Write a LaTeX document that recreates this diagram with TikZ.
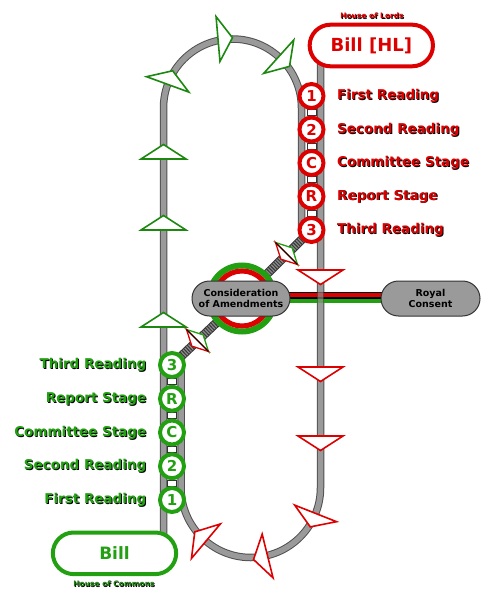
\documentclass[tikz,border=0pt]{standalone}
\usepackage{fontspec}
\setmainfont{DejaVu Sans}
\definecolor{lred}{HTML}{DD0000}
\definecolor{cgreen}{HTML}{22A012}
\definecolor{trk}{HTML}{9A9A9A}
\definecolor{trkd}{HTML}{505050}
\definecolor{pillg}{HTML}{9A9A9A}
\pgfdeclarelayer{bg}
\pgfsetlayers{bg,main}
\newcommand\shlabel[5]{%
  \node[lab, anchor=#2, text=black] (#1s) at ([shift={(0.9pt,-0.9pt)}]#3) {#5};
  \node[lab, anchor=#2, text=#4] (#1) at (#3) {#5};}
\tikzset{
  track/.style={draw=trkd, line width=7.5pt, postaction={draw=trk, line width=5.5pt}},
  diagline/.style={draw=trkd!70!black, line width=9pt, postaction={draw=trk!90!black, line width=7pt, dash pattern=on 1.2pt off 1.3pt}},
  lst/.style={circle, draw=lred, line width=4pt, fill=white, minimum size=24pt, inner sep=0pt, text=lred, font=\bfseries\fontsize{15}{15}\selectfont},
  cst/.style={lst, draw=cgreen, text=cgreen},
  lab/.style={font=\bfseries\fontsize{13.5}{14}\selectfont, inner sep=0pt},
  tiny/.style={font=\bfseries\fontsize{7.5}{8}\selectfont, inner sep=0pt},
  pill/.style={rectangle, rounded corners=17.5pt, minimum width=98pt, minimum height=35pt, fill=pillg, draw=black!80, line width=1pt, inner sep=0pt, align=center, font=\bfseries\fontsize{9.5}{10.5}\selectfont},
  billpill/.style={rectangle, rounded corners=20.8pt, minimum width=123.3pt, minimum height=41.6pt, line width=4pt, fill=white, inner sep=0pt},
  linkb/.style={rectangle, draw=black!80, fill=white, minimum width=9pt, minimum height=6pt, inner sep=0pt, line width=0.8pt},
  gtri/.pic={\filldraw[fill=white, draw=cgreen!85!black, line width=1.6pt] (0,-22.5) -- (14.5,0) -- (0,22.5) -- cycle;},
  rtri/.pic={\filldraw[fill=white, draw=lred, line width=1.6pt] (0,-22.5) -- (14.5,0) -- (0,22.5) -- cycle;},
  dmark/.pic={
    \filldraw[fill=white, draw=cgreen, line width=1.3pt] (0,-15.5) -- (8,0) -- (0,15.5) -- cycle;
    \filldraw[fill=white, draw=lred, line width=1.3pt] (0,-15.5) -- (-8,0) -- (0,15.5) -- cycle;
    \draw[black, line width=0.8pt] (0,-15.5) -- (0,15.5);}
}
\begin{document}
\begin{tikzpicture}[x=1pt, y=-1pt]
\useasboundingbox (0,0) rectangle (493,599);
% bills
\node[billpill, draw=lred, text=lred, font=\bfseries\fontsize{18}{18}\selectfont] (billhl) at (371.3,45.5) {Bill [HL]};
\node[billpill, draw=cgreen, text=cgreen, font=\bfseries\fontsize{17}{17}\selectfont] (billc) at (114.5,553.3) {Bill};
\node[tiny, text=black] (lordss) at (372.8,16.8) {House of Lords};
\node[tiny, text=lred] (lords) at (372,16) {House of Lords};
\node[tiny, text=black] (commonss) at (114.8,584.8) {House of Commons};
\node[tiny, text=cgreen!80!black] (commons) at (114,584) {House of Commons};
% consideration
\node[circle, draw=cgreen, line width=6pt, minimum size=66pt, inner sep=0pt, fill=white] (consring) at (242,298.5) {};
\node[circle, draw=lred, line width=5pt, minimum size=55pt, inner sep=0pt] (consin) at (242,298.5) {};
\node[pill] (cons) at (241,298.5) {Consideration\\of Amendments};
\node[pill, minimum width=99pt] (royal) at (430.5,298.5) {Royal\\Consent};
% Lords stations
\node[lst] (l1) at (311.5,96) {1};
\node[lst] (l2) at (311.5,129.5) {2};
\node[lst] (lc) at (311.5,163) {C};
\node[lst] (lr) at (311.5,196.5) {R};
\node[lst] (l3) at (311.5,230) {3};
% Commons stations
\node[cst] (c3) at (172,365) {3};
\node[cst] (cr) at (172,398.75) {R};
\node[cst] (cc) at (172,432.5) {C};
\node[cst] (c2) at (172,466.25) {2};
\node[cst] (c1) at (172,500) {1};
% labels
\shlabel{ll1}{west}{337,96}{lred}{First Reading}
\shlabel{ll2}{west}{337,129.5}{lred}{Second Reading}
\shlabel{llc}{west}{337,163}{lred}{Committee Stage}
\shlabel{llr}{west}{337,196.5}{lred}{Report Stage}
\shlabel{ll3}{west}{337,230}{lred}{Third Reading}
\shlabel{cl3}{east}{146.5,365}{cgreen}{Third Reading}
\shlabel{clr}{east}{146.5,398.75}{cgreen}{Report Stage}
\shlabel{clc}{east}{146.5,432.5}{cgreen}{Committee Stage}
\shlabel{cl2}{east}{146.5,466.25}{cgreen}{Second Reading}
\shlabel{cl1}{east}{146.5,500}{cgreen}{First Reading}
\begin{pgfonlayer}{bg}
  % loops
  \draw[track] (163.5,553) -- (163.5,108) arc[start angle=180, end angle=0, radius=69pt] -- (301.5,230);
  \draw[track] (320.5,45.5) -- (320.5,487.75) arc[start angle=0, end angle=-180, radius=69.75pt] -- (181,365);
  % diagonals
  \draw[diagline] (l3.center) -- (consring.center);
  \draw[diagline] (consring.center) -- (c3.center);
  % royal assent lines
  \draw[black, line width=10.7pt] ([yshift=0.85pt]cons.center) -- ([yshift=0.85pt]royal.center);
  \draw[lred, line width=4.4pt] ([yshift=3.6pt]cons.center) -- ([yshift=3.6pt]royal.center);
  \draw[cgreen, line width=4.2pt] ([yshift=-2.1pt]cons.center) -- ([yshift=-2.1pt]royal.center);
  \fill[trkd, opacity=0.6] (316.75,292) rectangle (317.75,303);
  \fill[trkd, opacity=0.6] (323.25,292) rectangle (324.25,303);
  \fill[trk, opacity=0.6] (317.75,292) rectangle (323.25,303);
  % station links
  \path (l1) -- (l2) node[midway, linkb] (k1) {};
  \path (l2) -- (lc) node[midway, linkb] (k2) {};
  \path (lc) -- (lr) node[midway, linkb] (k3) {};
  \path (lr) -- (l3) node[midway, linkb] (k4) {};
  \path (c3) -- (cr) node[midway, linkb] (k5) {};
  \path (cr) -- (cc) node[midway, linkb] (k6) {};
  \path (cc) -- (c2) node[midway, linkb] (k7) {};
  \path (c2) -- (c1) node[midway, linkb] (k8) {};
\end{pgfonlayer}
% green direction markers
\pic[rotate=90] at (163.5,159) {gtri};
\pic[rotate=90] at (163.5,230) {gtri};
\pic[rotate=90] at (163.5,327) {gtri};
\pic[rotate=70] at (167.7,84.4) {gtri};
\pic[rotate=5] at (218,39) {gtri};
\pic[rotate=-42] at (278.7,56.7) {gtri};
% red direction markers
\pic[rotate=-90] at (320.5,270) {rtri};
\pic[rotate=-90] at (320.5,367) {rtri};
\pic[rotate=-90] at (320.5,436) {rtri};
\pic[rotate=-111.6] at (315.6,513.4) {rtri};
\pic[rotate=-166] at (267.6,556) {rtri};
\pic[rotate=140] at (205.9,541.2) {rtri};
% diagonal markers
\pic[rotate=45] at (286.5,253.5) {dmark};
\pic[rotate=45] at (197.5,340.5) {dmark};
\end{tikzpicture}
\end{document}
